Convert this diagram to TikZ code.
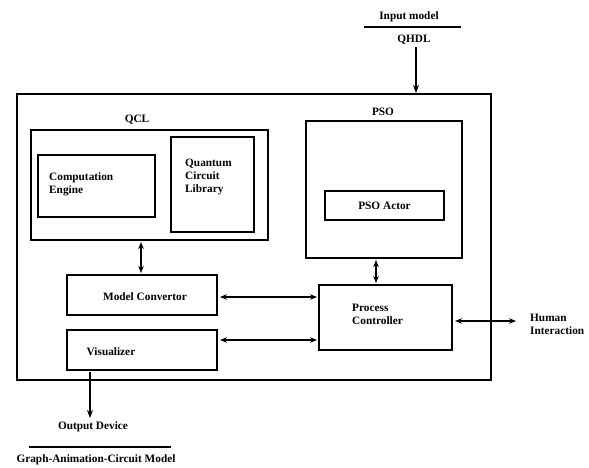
\documentclass[tikz,border=0pt]{standalone}
\usepackage{fontspec}
\setmainfont{Liberation Serif}
\usetikzlibrary{arrows.meta}
\begin{document}
\begin{tikzpicture}[x=1pt,y=-1pt,
  box/.style={draw,line width=2pt,inner sep=0pt},
  lbl/.style={font=\fontsize{11.3}{13}\selectfont\bfseries,inner sep=0pt,align=left},
  conn/.style={line width=1.3pt,-{Stealth[length=8pt,width=6pt]}},
  bconn/.style={line width=1.2pt,{Stealth[length=7pt,width=5.5pt]}-{Stealth[length=7pt,width=5.5pt]}}]
\useasboundingbox (0,0) rectangle (589,467);
% outer
\draw[line width=2.2pt] (17,94) rectangle (491,380);
% input
\node[lbl] (inm) at (409,17) {Input model};
\draw[line width=1.8pt] (364,27) -- (461,27);
\node[lbl] (qhdl) at (414,40) {QHDL};
\coordinate (qtop) at (416,47);
\coordinate (qbot) at (416,93);
\draw[conn] (qtop) -- (qbot);
% QCL
\node[lbl] at (137,120) {QCL};
\node[box,minimum width=237pt,minimum height=110pt] (qcl) at (149.5,185) {};
\node[box,minimum width=117pt,minimum height=62pt] (ce) at (96.5,186) {};
\node[lbl,anchor=west] at (49,184.5) {Computation\\Engine};
\node[box,minimum width=83pt,minimum height=95pt] (qcls) at (212.5,184.5) {};
\node[lbl,anchor=west] at (185,177) {Quantum\\Circuit\\Library};
% PSO
\node[lbl] at (383,112) {PSO};
\node[box,minimum width=156pt,minimum height=137pt] (pso) at (384,189.5) {};
\node[box,minimum width=119pt,minimum height=29pt,lbl] (act) at (384.5,205.5) {PSO Actor};
% left boxes
\node[box,minimum width=150pt,minimum height=40pt] (mc) at (142,295) {};
\node[lbl] at (145,297) {Model Convertor};
\node[box,minimum width=150pt,minimum height=40pt] (vis) at (142,350) {};
\node[lbl] at (111,352) {Visualizer};
% process controller
\node[box,minimum width=133pt,minimum height=65pt] (pc) at (385.5,317.5) {};
\node[lbl,anchor=west] at (352,314.5) {Process\\Controller};
% arrows
\draw[bconn] (141,242) -- (141,273);
\draw[bconn] (376,260) -- (376,283);
\draw[bconn] (220,297) -- (317,297);
\draw[bconn] (220,340) -- (317,340);
\coordinate (hum) at (516,321);
\draw[bconn] (455,321) -- (hum);
\node[lbl,anchor=west] at (530,324.5) {Human\\Interaction};
% output
\coordinate (od) at (90,418);
\draw[conn] (90,372) -- (od);
\node[lbl] (odl) at (93,427) {Output Device};
\draw[line width=1.8pt] (29,447) -- (171,447);
\node[lbl] (gac) at (96,460) {Graph-Animation-Circuit Model};
\end{tikzpicture}
\end{document}
